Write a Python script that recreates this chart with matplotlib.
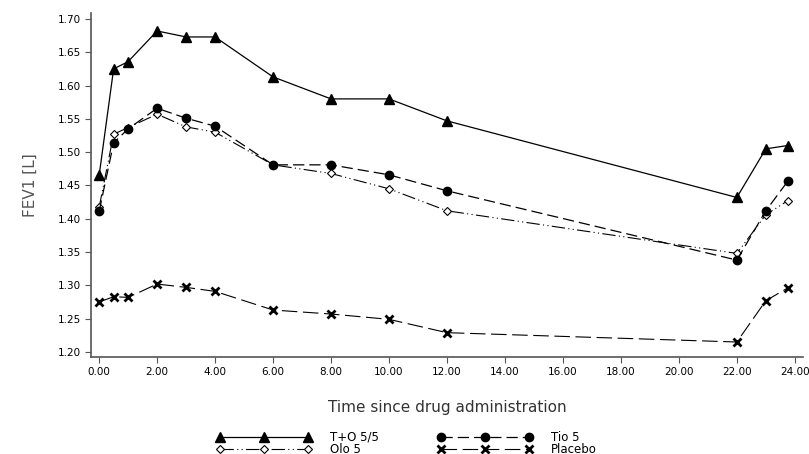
import numpy as np
import matplotlib
matplotlib.use("Agg")
import matplotlib.pyplot as plt

# --- data ---
hours = [0, 0.5, 1, 2, 3, 4, 6, 8, 10, 12, 22, 23, 23.75]
to_55 = [1.465, 1.625, 1.636, 1.682, 1.673, 1.673, 1.613, 1.580, 1.580, 1.547, 1.432, 1.505, 1.510]
tio_5 = [1.411, 1.514, 1.535, 1.566, 1.551, 1.539, 1.481, 1.481, 1.466, 1.442, 1.338, 1.412, 1.456]
olo_5 = [1.417, 1.527, 1.537, 1.557, 1.538, 1.530, 1.481, 1.468, 1.445, 1.412, 1.348, 1.406, 1.427]
placebo = [1.275, 1.283, 1.282, 1.302, 1.297, 1.291, 1.263, 1.257, 1.249, 1.229, 1.215, 1.277, 1.296]

xticks = np.arange(0, 25, 2)
yticks = np.arange(1.20, 1.701, 0.05)

fig = plt.figure(figsize=(8.09, 4.54), dpi=100)
ax = fig.add_axes([0.1125, 0.2137, 0.88, 0.7577])

ax.plot(hours, to_55, color="black", lw=0.9, marker="^", ms=6.5, label="T+O 5/5")
ax.plot(hours, olo_5, color="black", lw=0.8, ls=(0, (12, 3, 1, 3, 1, 3)), marker="D", ms=4,
        mfc="white", mew=0.8, label="Olo 5")
ax.plot(hours, tio_5, color="black", lw=0.9, ls=(0, (9, 4)), marker="o", ms=6, label="Tio 5")
ax.plot(hours, placebo, color="black", lw=0.8, ls=(0, (14, 5)), marker="x", ms=6, mew=2,
        label="Placebo")

ax.set_xlim(-0.28, 24.28)
ax.set_ylim(1.1925, 1.709)
ax.set_xticks(xticks)
ax.set_xticklabels([f"{v:.2f}" for v in xticks], fontsize=7.5)
ax.set_yticks(yticks)
ax.set_yticklabels([f"{v:.2f}" for v in yticks], fontsize=7.5)
for s in ["top", "right"]:
    ax.spines[s].set_visible(False)
for s in ["left", "bottom"]:
    ax.spines[s].set_color("#555555")
    ax.spines[s].set_linewidth(1.2)
ax.tick_params(direction="out", length=4, color="#555555")

ax.set_ylabel("FEV1 [L]", fontsize=11, color="#555555", labelpad=14)
ax.set_xlabel("Time since drug administration", fontsize=11, color="#333333", labelpad=16)

handles, labels = ax.get_legend_handles_labels()
fig.legend(handles, labels, ncol=2, loc="center", bbox_to_anchor=(0.503, 0.024), frameon=False,
           numpoints=3, handlelength=8, fontsize=8.5, labelspacing=-0.1,
           columnspacing=5, handletextpad=1.6, borderpad=0, handleheight=0.6)

fig.savefig("out.png", dpi=100)
